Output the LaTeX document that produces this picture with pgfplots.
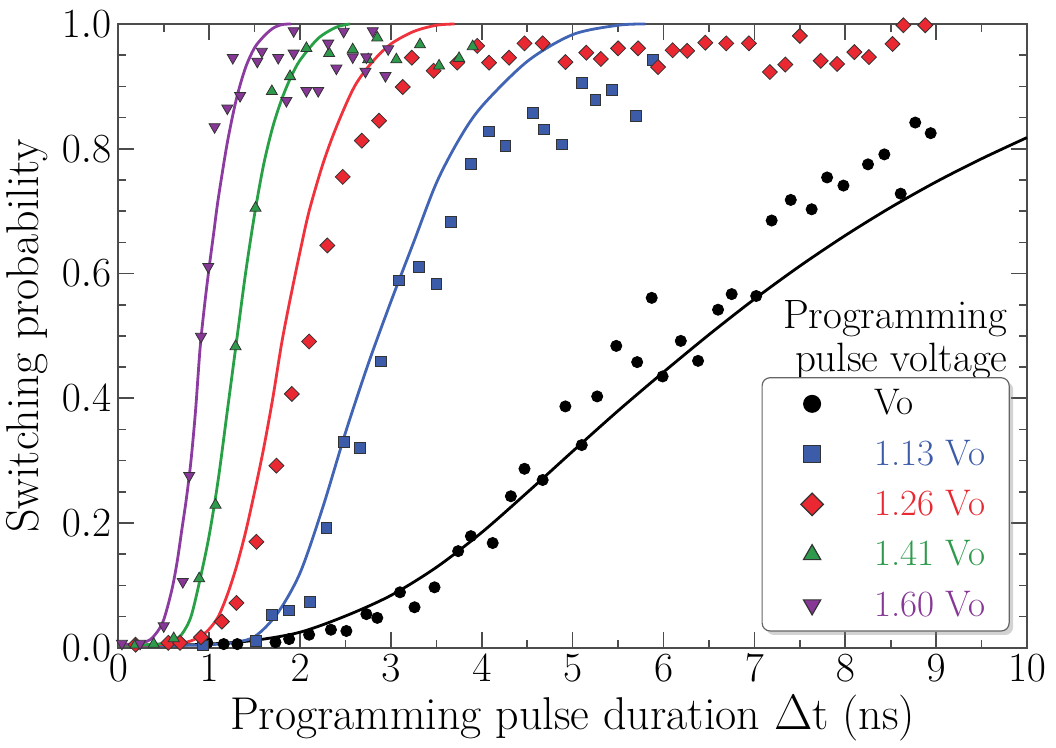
\documentclass[border=0pt]{standalone}
\usepackage{pgfplots}
\pgfplotsset{compat=1.18}
\usetikzlibrary{shadows}
\definecolor{cblue}{RGB}{60,92,170}
\definecolor{cred}{RGB}{233,40,50}
\definecolor{cgreen}{RGB}{45,155,75}
\definecolor{cpurple}{RGB}{135,55,150}
\definecolor{lblue}{RGB}{65,100,180}
\definecolor{lred}{RGB}{240,50,60}
\definecolor{lgreen}{RGB}{40,160,70}
\definecolor{lpurple}{RGB}{140,60,160}
\pgfplotsset{legimg/.style={legend image code/.code={\path[draw=none,fill=none] (0pt,0pt) (44pt,0pt); \draw[##1,only marks] plot coordinates {(15pt,0pt)};}}}
\begin{document}
\begin{tikzpicture}
\begin{axis}[
  scale only axis, width=454.5pt, height=312pt,
  xmin=0, xmax=10, ymin=0, ymax=1,
  xtick={0,1,...,10}, minor x tick num=1,
  ytick={0,0.2,0.4,0.6,0.8,1.0}, minor y tick num=3,
  yticklabel style={/pgf/number format/.cd,fixed,fixed zerofill,precision=1},
  tick align=inside,
  major tick length=8pt, minor tick length=4pt,
  axis line style={draw=black!70, line width=0.8pt},
  every tick/.style={black!70, line width=0.8pt},
  tick label style={font=\fontsize{20}{22}\selectfont},
  label style={font=\fontsize{23}{26}\selectfont},
  xlabel={Programming pulse duration $\Delta$t (ns)},
  ylabel={Switching probability},
  clip=false,
  legend cell align=left,
  legend style={at={(0.981,0.026)}, anchor=south east, draw=black!60, line width=0.6pt,
    rounded corners=4pt, fill=white, drop shadow={opacity=0.35, shadow xshift=2pt, shadow yshift=-2pt},
    font=\fontsize{18.5}{21}\selectfont, row sep=7pt, inner xsep=10pt, inner ysep=4pt},
]
% legend images
\addlegendimage{only marks, legimg, mark=*, mark size=4.2pt, black}
\addlegendimage{only marks, legimg, mark=square*, mark size=4.2pt, draw=black!80, fill=cblue}
\addlegendimage{only marks, legimg, mark=square*, mark size=4pt, mark options={rotate=45}, draw=black!80, fill=cred}
\addlegendimage{only marks, legimg, mark=triangle*, mark size=5pt, draw=black!80, fill=cgreen}
\addlegendimage{only marks, legimg, mark=triangle*, mark size=5pt, mark options={rotate=180}, draw=black!80, fill=cpurple}
\legend{Vo, \textcolor{cblue}{1.13 Vo}, \textcolor{cred}{1.26 Vo}, \textcolor{cgreen}{1.41 Vo}, \textcolor{cpurple}{1.60 Vo}}

% fitted curves
\addplot[forget plot, black, line width=1.4pt, smooth] coordinates {
(0,0.004)(0.5,0.004)(1,0.006)(1.5,0.012)(2,0.025)(2.5,0.051)(3,0.084)(3.5,0.129)(4,0.185)(4.5,0.249)(5,0.315)(5.5,0.380)(6,0.442)(6.5,0.502)(7,0.559)(7.5,0.612)(8,0.661)(8.5,0.706)(9,0.747)(9.5,0.784)(10,0.818)};
\addplot[forget plot, lblue, line width=1.4pt, smooth] coordinates {
(0,0.004)(0.8,0.004)(1.0,0.005)(1.25,0.008)(1.5,0.018)(1.75,0.055)(2.0,0.12)(2.25,0.225)(2.5,0.345)(2.75,0.455)(3.0,0.555)(3.25,0.65)(3.5,0.745)(3.75,0.815)(4.0,0.868)(4.5,0.94)(5.0,0.983)(5.5,0.998)(5.8,1.0)};
\addplot[forget plot, lred, line width=1.4pt, smooth] coordinates {
(0,0.004)(0.5,0.005)(0.75,0.009)(0.9,0.018)(1.0,0.03)(1.1,0.05)(1.2,0.085)(1.3,0.13)(1.4,0.185)(1.5,0.25)(1.6,0.32)(1.7,0.40)(1.8,0.49)(1.9,0.565)(2.0,0.635)(2.1,0.70)(2.25,0.775)(2.4,0.835)(2.6,0.9)(2.8,0.94)(3.0,0.968)(3.25,0.988)(3.5,0.998)(3.7,1.0)};
\addplot[forget plot, lgreen, line width=1.4pt, smooth] coordinates {
(0,0.004)(0.3,0.005)(0.5,0.007)(0.6,0.011)(0.7,0.022)(0.8,0.05)(0.9,0.11)(1.0,0.18)(1.1,0.27)(1.2,0.38)(1.3,0.49)(1.4,0.60)(1.5,0.695)(1.6,0.775)(1.7,0.835)(1.8,0.88)(1.9,0.915)(2.0,0.942)(2.2,0.977)(2.4,0.995)(2.55,1.0)};
\addplot[forget plot, lpurple, line width=1.4pt, smooth] coordinates {
(0,0.006)(0.2,0.006)(0.35,0.013)(0.45,0.03)(0.5,0.045)(0.55,0.07)(0.6,0.1)(0.65,0.14)(0.7,0.19)(0.75,0.24)(0.8,0.3)(0.85,0.38)(0.9,0.48)(0.95,0.55)(1.0,0.61)(1.05,0.665)(1.1,0.72)(1.2,0.81)(1.3,0.88)(1.4,0.93)(1.5,0.962)(1.6,0.98)(1.7,0.993)(1.8,0.999)(1.9,1.0)};

% data points
\addplot[forget plot, only marks, mark=*, mark size=2.8pt, black] coordinates {
(0.98,0.008)(1.16,0.006)(1.31,0.006)(1.73,0.009)(1.88,0.014)(2.10,0.021)(2.34,0.029)(2.51,0.027)(2.73,0.054)(2.85,0.048)(3.10,0.089)(3.26,0.065)(3.48,0.097)(3.74,0.155)(3.88,0.179)(4.12,0.168)(4.32,0.243)(4.47,0.287)(4.67,0.269)(4.92,0.387)(5.10,0.325)(5.27,0.403)(5.48,0.484)(5.71,0.458)(5.87,0.561)(5.99,0.435)(6.19,0.492)(6.38,0.460)(6.60,0.542)(6.75,0.567)(7.02,0.564)(7.19,0.685)(7.40,0.718)(7.63,0.703)(7.80,0.754)(7.98,0.741)(8.25,0.775)(8.43,0.791)(8.61,0.728)(8.77,0.842)(8.94,0.825)};
\addplot[forget plot, only marks, mark=square*, mark size=2.7pt, draw=black!80, fill=cblue] coordinates {
(0.93,0.004)(1.51,0.011)(1.69,0.053)(1.88,0.060)(2.11,0.074)(2.29,0.192)(2.48,0.330)(2.66,0.321)(2.89,0.459)(3.09,0.589)(3.31,0.611)(3.50,0.583)(3.66,0.683)(3.88,0.776)(4.08,0.828)(4.26,0.805)(4.56,0.857)(4.68,0.831)(4.88,0.807)(5.10,0.905)(5.25,0.878)(5.43,0.894)(5.70,0.853)(5.88,0.943)};
\addplot[forget plot, only marks, mark=square*, mark size=2.65pt, mark options={rotate=45}, draw=black!80, fill=cred] coordinates {
(0.19,0.005)(0.55,0.008)(0.68,0.008)(0.91,0.017)(1.14,0.042)(1.30,0.072)(1.52,0.170)(1.74,0.292)(1.91,0.407)(2.10,0.491)(2.30,0.645)(2.47,0.755)(2.68,0.813)(2.87,0.845)(3.13,0.899)(3.23,0.946)(3.47,0.925)(3.73,0.938)(3.95,0.965)(4.08,0.938)(4.30,0.946)(4.47,0.969)(4.67,0.969)(4.92,0.939)(5.15,0.954)(5.31,0.944)(5.50,0.961)(5.72,0.961)(5.94,0.931)(6.10,0.958)(6.26,0.957)(6.46,0.970)(6.69,0.969)(6.94,0.969)(7.17,0.923)(7.34,0.935)(7.50,0.981)(7.73,0.941)(7.91,0.936)(8.10,0.955)(8.26,0.947)(8.52,0.968)(8.64,0.998)(8.88,0.998)};
\addplot[forget plot, only marks, mark=triangle*, mark size=3.2pt, draw=black!80, fill=cgreen] coordinates {
(0.19,0.005)(0.39,0.006)(0.61,0.015)(0.89,0.111)(1.07,0.229)(1.29,0.483)(1.51,0.705)(1.69,0.892)(1.89,0.916)(2.07,0.961)(2.32,0.953)(2.58,0.959)(2.75,0.943)(2.85,0.978)(3.06,0.943)(3.32,0.967)(3.53,0.933)(3.75,0.945)(3.90,0.964)};
\addplot[forget plot, only marks, mark=triangle*, mark size=3.2pt, mark options={rotate=180}, draw=black!80, fill=cpurple] coordinates {
(0.04,0.007)(0.24,0.007)(0.50,0.035)(0.71,0.106)(0.78,0.276)(0.91,0.499)(0.99,0.611)(1.06,0.835)(1.20,0.865)(1.26,0.946)(1.34,0.885)(1.53,0.940)(1.58,0.956)(1.76,0.946)(1.85,0.877)(1.93,0.953)(1.93,0.989)(2.07,0.893)(2.20,0.893)(2.31,0.969)(2.40,0.929)(2.48,0.988)(2.58,0.947)(2.72,0.924)(2.73,0.947)(2.80,0.989)(2.94,0.917)(2.97,0.960)};

\node[anchor=north east, align=right, inner sep=0pt, font=\fontsize{20.5}{21.5}\selectfont]
  at (rel axis cs:0.979,0.557) {Programming\\pulse voltage};
% page extent matching the reference margins
\path[draw=none] (rel axis cs:-0.1298,-0.1218) (rel axis cs:1.0319,1.0385);
\end{axis}
\end{tikzpicture}
\end{document}
